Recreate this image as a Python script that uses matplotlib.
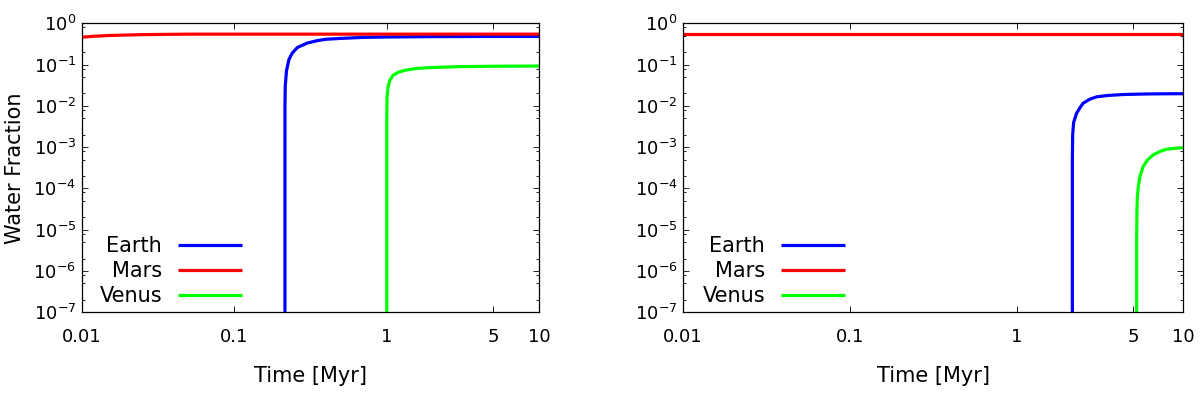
import matplotlib
matplotlib.use("Agg")
import matplotlib.pyplot as plt
from matplotlib.ticker import LogLocator, FixedLocator, FixedFormatter, NullFormatter, LogFormatterSciNotation

plt.rcParams['font.family'] = ['DejaVu Sans']
plt.rcParams['mathtext.fontset'] = 'dejavusans'
plt.rcParams['mathtext.default'] = 'regular'

# ---------------- data ----------------
series_names = ["Earth", "Mars", "Venus"]
series_colors = ["#0000ff", "#ff0000", "#00ff00"]

xtick_values = [0.01, 0.1, 1, 5, 10]
xtick_labels = ["0.01", "0.1", "1", "5", "10"]

# Left panel
left_earth_t = [0.2150, 0.2151, 0.2160, 0.2200, 0.2280, 0.2400, 0.2600, 0.3000, 0.3500,
                0.4000, 0.5000, 0.7000, 1.0, 2.0, 5.0, 10.0]
left_earth_w = [1e-9, 0.01, 0.03, 0.07, 0.13, 0.19, 0.26, 0.33, 0.38,
                0.41, 0.43, 0.455, 0.465, 0.475, 0.48, 0.48]
left_mars_t = [0.01, 0.012, 0.015, 0.02, 0.025, 0.03, 0.04, 0.05, 0.07, 0.1, 0.2, 0.5, 1, 2, 5, 10]
left_mars_w = [0.46, 0.485, 0.505, 0.52, 0.53, 0.535, 0.54, 0.545, 0.545, 0.545, 0.545,
               0.545, 0.545, 0.545, 0.545, 0.545]
left_venus_t = [1.0, 1.0002, 1.005, 1.02, 1.05, 1.1, 1.2, 1.35, 1.6, 2.0, 3.0, 5.0, 10.0]
left_venus_w = [1e-9, 0.005, 0.017, 0.029, 0.042, 0.055, 0.066, 0.074, 0.081, 0.085,
                0.089, 0.091, 0.092]

# Right panel
right_earth_t = [2.16, 2.161, 2.17, 2.2, 2.29, 2.4, 2.51, 2.75, 3.02, 3.5, 4.36, 6.0, 8.0, 10.0]
right_earth_w = [1e-9, 0.0005, 0.002, 0.004, 0.0066, 0.009, 0.0116, 0.0145, 0.0165,
                 0.0178, 0.0188, 0.0194, 0.0196, 0.0197]
right_mars_t = [0.01, 0.1, 1, 10]
right_mars_w = [0.54, 0.54, 0.54, 0.54]
right_venus_t = [5.25, 5.251, 5.27, 5.3, 5.37, 5.5, 5.75, 6.1, 6.6, 7.2, 7.94, 9.0, 10.0]
right_venus_w = [1e-9, 5e-6, 2.6e-5, 6e-5, 1.1e-4, 2.0e-4, 3.4e-4, 4.9e-4, 6.5e-4,
                 7.8e-4, 8.9e-4, 9.4e-4, 9.7e-4]

panels = [
    [(left_earth_t, left_earth_w), (left_mars_t, left_mars_w), (left_venus_t, left_venus_w)],
    [(right_earth_t, right_earth_w), (right_mars_t, right_mars_w), (right_venus_t, right_venus_w)],
]

# ---------------- figure ----------------
fig = plt.figure(figsize=(12, 3.97), dpi=100)
ax_rects = [[0.0681, 0.2134, 0.3813, 0.728], [0.5692, 0.2134, 0.4169, 0.728]]

TICK_FS = 13
LAB_FS = 15
LEG_FS = 15
for i, (rect, panel) in enumerate(zip(ax_rects, panels)):
    ax = fig.add_axes(rect)
    for (t, w), name, col in zip(panel, series_names, series_colors):
        ax.plot(t, w, color=col, lw=2.3, label=name, solid_capstyle='butt')
    ax.set_xscale('log')
    ax.set_yscale('log')
    ax.set_xlim(0.01, 10)
    ax.set_ylim(1e-7, 1)
    ax.xaxis.set_major_locator(FixedLocator(xtick_values))
    ax.xaxis.set_major_formatter(FixedFormatter(xtick_labels))
    ax.xaxis.set_minor_locator(FixedLocator([]))
    ax.yaxis.set_major_locator(LogLocator(base=10, numticks=20))
    ax.yaxis.set_major_formatter(LogFormatterSciNotation())
    ax.yaxis.set_minor_locator(LogLocator(base=10, subs=[2, 5, 8], numticks=20))
    ax.yaxis.set_minor_formatter(NullFormatter())
    ax.tick_params(which='both', direction='in', top=True, right=True, labelsize=TICK_FS, width=0.6)
    ax.tick_params(axis='x', which='major', length=4.5, pad=11)
    ax.tick_params(axis='y', which='major', length=4.5, pad=4)
    ax.tick_params(which='minor', length=2.2)
    for sp in ax.spines.values():
        sp.set_linewidth(0.9)
    ax.set_xlabel("Time [Myr]", fontsize=LAB_FS, labelpad=15)
    if i == 0:
        ax.set_ylabel("Water Fraction", fontsize=LAB_FS)
        ax.yaxis.set_label_coords(-0.125, 0.5)
    leg = ax.legend(loc='lower left', bbox_to_anchor=(0.039, 0.022), frameon=False,
                    markerfirst=False, fontsize=LEG_FS, handlelength=3.1, handletextpad=0.75,
                    labelspacing=0.23, borderpad=0, borderaxespad=0)

fig.savefig("out.png", dpi=100)
